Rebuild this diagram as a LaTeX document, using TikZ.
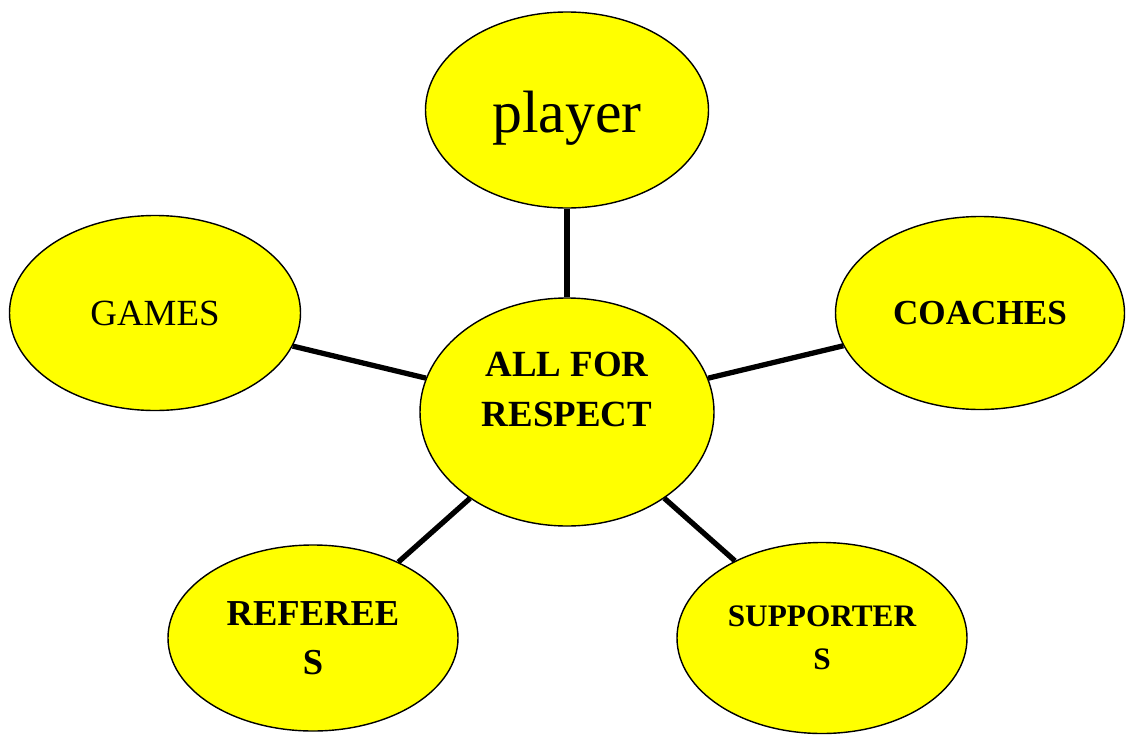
\documentclass[tikz,border=0pt]{standalone}
\usepackage{fontspec}
\setmainfont{Liberation Serif}
\usepackage{tikz}
\usetikzlibrary{shapes.geometric}
\definecolor{bubbleyellow}{RGB}{255,255,0}

\begin{document}
\begin{tikzpicture}[bubble/.style={ellipse,draw=black,line width=0.8pt,fill=bubbleyellow,inner sep=0pt,align=center},
link/.style={line width=3pt}]
\useasboundingbox (0,0) rectangle (22.58,-14.72);
\node[bubble,minimum width=5.88cm,minimum height=4.56cm](respect)at(11.34,-8.24){};
\node[font=\bfseries\fontsize{21}{28.5}\selectfont,align=center](respect text)at(11.34,-7.78){ALL FOR\\RESPECT};
\node[bubble,minimum width=5.66cm,minimum height=3.92cm](player)at(11.34,-2.2){};
\node[font=\fontsize{34}{40}\selectfont](player text)at(11.34,-2.36){player};
\node[bubble,minimum width=5.82cm,minimum height=3.9cm,font=\fontsize{21}{24}\selectfont](games)at(3.1,-6.26){GAMES};
\node[bubble,minimum width=5.78cm,minimum height=3.86cm,font=\bfseries\fontsize{20}{24}\selectfont](coaches)at(19.6,-6.26){COACHES};
\node[bubble,minimum width=5.8cm,minimum height=3.72cm,font=\bfseries\fontsize{20.8}{28}\selectfont](referees)at(6.26,-12.76){REFEREE\\S};
\node[bubble,minimum width=5.8cm,minimum height=3.82cm,font=\bfseries\fontsize{17.8}{24.5}\selectfont](supporters)at(16.44,-12.76){SUPPORTER\\S};
\draw[link](player)--(respect);
\draw[link](games)--(respect);
\draw[link](coaches)--(respect);
\draw[link](referees)--(respect);
\draw[link](supporters)--(respect);
\end{tikzpicture}
\end{document}
